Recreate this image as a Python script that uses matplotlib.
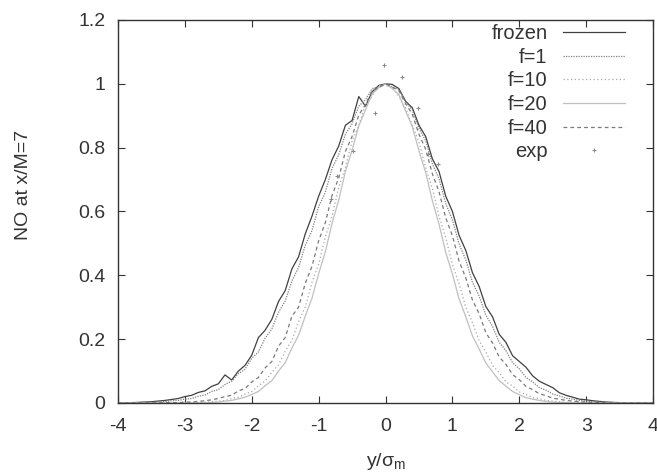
import matplotlib
matplotlib.use("Agg")
import matplotlib.pyplot as plt

plt.rcParams['font.family'] = ['Liberation Sans', 'DejaVu Sans']

# Sample positions (y/sigma_m)
x_pos = [-4.0, -3.9, -3.8, -3.7, -3.6, -3.5, -3.4, -3.3, -3.2, -3.1,
         -3.0, -2.9, -2.8, -2.7, -2.6, -2.5, -2.4, -2.3, -2.2, -2.1,
         -2.0, -1.9, -1.8, -1.7, -1.6, -1.5, -1.4, -1.3, -1.2, -1.1,
         -1.0, -0.9, -0.8, -0.7, -0.6, -0.5, -0.4, -0.3, -0.2, -0.1,
         0.0, 0.1, 0.2, 0.3, 0.4, 0.5, 0.6, 0.7, 0.8, 0.9,
         1.0, 1.1, 1.2, 1.3, 1.4, 1.5, 1.6, 1.7, 1.8, 1.9,
         2.0, 2.1, 2.2, 2.3, 2.4, 2.5, 2.6, 2.7, 2.8, 2.9,
         3.0, 3.1, 3.2, 3.3, 3.4, 3.5, 3.6, 3.7, 3.8, 3.9, 4.0]

frozen = [0.000, 0.000, 0.001, 0.002, 0.003, 0.004, 0.006, 0.008, 0.011, 0.014,
          0.020, 0.024, 0.033, 0.038, 0.052, 0.060, 0.088, 0.072, 0.100, 0.118,
          0.150, 0.205, 0.228, 0.262, 0.318, 0.352, 0.420, 0.458, 0.530, 0.585,
          0.648, 0.700, 0.762, 0.805, 0.870, 0.885, 0.960, 0.930, 0.975, 0.995,
          1.000, 0.998, 0.985, 0.945, 0.925, 0.870, 0.835, 0.765, 0.725, 0.648,
          0.600, 0.525, 0.478, 0.408, 0.365, 0.302, 0.270, 0.215, 0.190, 0.148,
          0.130, 0.112, 0.085, 0.068, 0.058, 0.048, 0.032, 0.024, 0.018, 0.012,
          0.010, 0.007, 0.005, 0.003, 0.002, 0.001, 0.000, 0.000, 0.000, 0.000, 0.000]

f1 = [0.000, 0.000, 0.001, 0.001, 0.002, 0.002, 0.004, 0.004, 0.007, 0.008,
      0.012, 0.014, 0.021, 0.025, 0.036, 0.042, 0.058, 0.068, 0.092, 0.106,
      0.140, 0.160, 0.203, 0.232, 0.284, 0.320, 0.382, 0.425, 0.494, 0.540,
      0.615, 0.660, 0.735, 0.778, 0.842, 0.875, 0.930, 0.950, 0.985, 0.990,
      1.000, 0.990, 0.982, 0.944, 0.918, 0.860, 0.822, 0.750, 0.702, 0.625,
      0.574, 0.498, 0.448, 0.378, 0.335, 0.275, 0.240, 0.190, 0.164, 0.126,
      0.107, 0.080, 0.066, 0.048, 0.040, 0.028, 0.022, 0.015, 0.012, 0.008,
      0.006, 0.004, 0.003, 0.002, 0.001, 0.000, 0.000, 0.000, 0.000, 0.000, 0.000]

f10 = [0.000, 0.000, 0.000, 0.000, 0.000, 0.000, 0.000, 0.000, 0.000, 0.000,
       0.000, 0.001, 0.001, 0.002, 0.004, 0.006, 0.008, 0.014, 0.018, 0.028,
       0.036, 0.054, 0.068, 0.096, 0.120, 0.162, 0.196, 0.255, 0.300, 0.378,
       0.435, 0.520, 0.585, 0.675, 0.738, 0.820, 0.870, 0.935, 0.962, 0.995,
       0.995, 0.990, 0.960, 0.925, 0.870, 0.818, 0.738, 0.672, 0.585, 0.518,
       0.434, 0.374, 0.300, 0.252, 0.195, 0.160, 0.118, 0.095, 0.066, 0.053,
       0.035, 0.027, 0.017, 0.013, 0.008, 0.006, 0.004, 0.002, 0.002, 0.001,
       0.000, 0.000, 0.000, 0.000, 0.000, 0.000, 0.000, 0.000, 0.000, 0.000, 0.000]

f20 = [0.000, 0.000, 0.000, 0.000, 0.000, 0.000, 0.000, 0.000, 0.000, 0.000,
       0.000, 0.000, 0.000, 0.000, 0.002, 0.003, 0.006, 0.008, 0.013, 0.018,
       0.027, 0.036, 0.054, 0.070, 0.100, 0.126, 0.172, 0.212, 0.272, 0.328,
       0.405, 0.474, 0.562, 0.636, 0.725, 0.792, 0.868, 0.918, 0.968, 0.988,
       1.000, 0.985, 0.966, 0.915, 0.866, 0.790, 0.722, 0.634, 0.560, 0.472,
       0.404, 0.326, 0.270, 0.210, 0.169, 0.125, 0.098, 0.070, 0.053, 0.036,
       0.026, 0.017, 0.012, 0.008, 0.005, 0.003, 0.002, 0.001, 0.000, 0.000,
       0.000, 0.000, 0.000, 0.000, 0.000, 0.000, 0.000, 0.000, 0.000, 0.000, 0.000]

f40 = [0.000, 0.000, 0.000, 0.000, 0.000, 0.000, 0.000, 0.001, 0.001, 0.001,
       0.003, 0.003, 0.005, 0.007, 0.010, 0.014, 0.020, 0.024, 0.038, 0.045,
       0.066, 0.080, 0.110, 0.130, 0.178, 0.205, 0.272, 0.300, 0.375, 0.428,
       0.508, 0.565, 0.650, 0.705, 0.788, 0.835, 0.902, 0.935, 0.978, 0.988,
       1.000, 0.990, 0.978, 0.938, 0.905, 0.842, 0.795, 0.718, 0.662, 0.580,
       0.524, 0.444, 0.392, 0.322, 0.280, 0.220, 0.188, 0.144, 0.121, 0.089,
       0.073, 0.052, 0.042, 0.029, 0.023, 0.015, 0.012, 0.008, 0.006, 0.004,
       0.003, 0.002, 0.001, 0.000, 0.000, 0.000, 0.000, 0.000, 0.000, 0.000, 0.000]

exp_x = [-0.82, -0.72, -0.49, -0.15, -0.03, 0.25, 0.49, 0.63, 0.78]
exp_y = [0.64, 0.71, 0.79, 0.91, 1.06, 1.02, 0.925, 0.78, 0.75]

labels = ["frozen", "f=1", "f=10", "f=20", "f=40", "exp"]
x_ticks = [-4, -3, -2, -1, 0, 1, 2, 3, 4]
y_ticks = [0, 0.2, 0.4, 0.6, 0.8, 1, 1.2]
y_ticklabels = ["0", "0.2", "0.4", "0.6", "0.8", "1", "1.2"]

fig = plt.figure(figsize=(6.57, 4.75), dpi=100)
ax = fig.add_axes([0.1796, 0.1516, 0.8144, 0.8064])

ax.plot(x_pos, frozen, color='#404040', lw=0.9, ls='-', label=labels[0])
ax.plot(x_pos, f1, color='#808080', lw=0.9, ls=(0, (1, 1)), label=labels[1])
ax.plot(x_pos, f10, color='#a8a8a8', lw=0.9, ls=(0, (1, 2)), label=labels[2])
ax.plot(x_pos, f20, color='#c0c0c0', lw=0.9, ls='-', label=labels[3])
ax.plot(x_pos, f40, color='#7a7a7a', lw=0.9, ls=(0, (3, 2.5)), label=labels[4])
ax.plot(exp_x, exp_y, ls='none', marker='+', ms=3.5, mew=0.8, color='#8a8a8a', label=labels[5])

ax.set_xlim(-4, 4)
ax.set_ylim(0, 1.2)
ax.set_xticks(x_ticks)
ax.set_xticklabels([str(t) for t in x_ticks])
ax.set_yticks(y_ticks)
ax.set_yticklabels(y_ticklabels)
ax.tick_params(direction='in', length=5, width=0.8, top=True, right=True,
               labelsize=14, colors='#333333')
ax.tick_params(axis='y', pad=9)
ax.tick_params(axis='x', pad=11)
for s in ax.spines.values():
    s.set_color('#333333')
    s.set_linewidth(1.0)

ax.set_xlabel('y/σ$_\\mathregular{m}$', fontsize=14, color='#333333')
ax.xaxis.set_label_coords(0.5, -0.125)
ax.set_ylabel('NO at x/M=7', fontsize=14, color='#333333')
ax.yaxis.set_label_coords(-0.161, 0.569)

leg = ax.legend(loc='upper right', frameon=False, markerfirst=False,
                fontsize=14.5, handlelength=3.1, labelspacing=0.23,
                borderaxespad=0.0, handletextpad=0.75,
                bbox_to_anchor=(0.963, 1.01))
for t in leg.get_texts():
    t.set_color('#333333')

fig.savefig('out.png', dpi=100)
